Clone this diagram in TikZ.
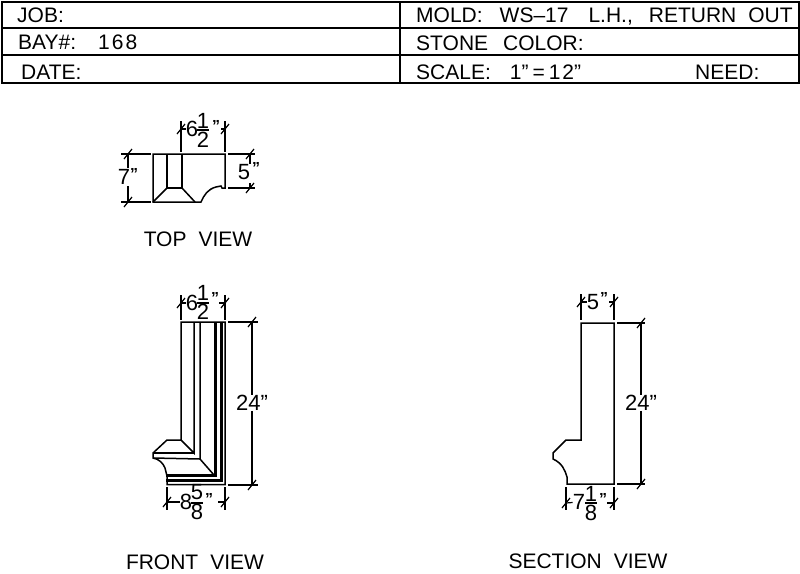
\documentclass[tikz,border=0pt]{standalone}
\usepackage{fontspec}
\setmainfont{Liberation Sans}
\usetikzlibrary{positioning}
\tikzset{
    part/.style={line width=1.5pt, black, line join=miter},
    heavy/.style={line width=3pt, black},
    dimline/.style={line width=1.2pt, black},
    rowtext/.style={anchor=base west, inner sep=0pt, font=\fontsize{21}{22}\selectfont},
    viewtext/.style={anchor=base, inner sep=0pt, font=\fontsize{21}{22}\selectfont},
    dimtext/.style={inner sep=0pt, font=\fontsize{22}{22}\selectfont},
    dimquote/.style={inner sep=0pt, font=\bfseries\fontsize{16}{16}\selectfont},
}
\newcommand{\dimtick}[2]{\draw[dimline] (#1-4,#2+5) -- (#1+4,#2-5);}
\begin{document}
\begin{tikzpicture}[x=1pt,y=-1pt]
    \useasboundingbox (0,0) rectangle (800,573);
    % header
    \draw[line width=1.6pt] (2,2) rectangle (799,83);
    \draw[line width=1.6pt] (2,28) -- (799,28);
    \draw[line width=1.6pt] (2,55) -- (799,55);
    \draw[line width=1.6pt] (400,2) -- (400,83);
    \node[rowtext] (job) at (17,22) {JOB:};
    \node[rowtext] (bay) at (18,49) {BAY\#:\hspace{22pt}1\hspace{2pt}6\hspace{2pt}8};
    \node[rowtext] (date) at (21,79) {DATE:};
    \node[rowtext] (mold) at (416,22) {MOLD:\hspace{17pt}WS--17\hspace{20pt}L.H.,\hspace{16pt}RETURN\hspace{12pt}OUT};
    \node[rowtext] (stone) at (416,50) {STONE\hspace{15pt}COLOR:};
    \node[rowtext] (scale) at (416,79) {SCALE:\hspace{19pt}1”\hspace{4pt}=\hspace{4pt}1\hspace{2pt}2”};
    \node[rowtext] (need) at (695,79) {NEED:};
    % top view
    \draw[part] (153,202) -- (153,154) -- (225,154) -- (225,188) -- (222,188) -- (221,186) -- (216,187)
        .. controls (208,189) and (204,195) .. (201,202) -- cycle;
    \draw[part] (167,154) -- (167,188) -- (182,188) -- (182,154);
    \draw[part] (153,202) -- (167,188);
    \draw[part] (182,188) -- (195,202);
    \draw[dimline] (181,121) -- (181,152);
    \draw[dimline] (225,121) -- (225,152);
    \node[dimtext] (topw) at (192,129) {6};
    \node[dimtext] (topwa) at (203,120.5) {1};
    \node[dimtext] (topwb) at (203,139.5) {2};
    \node[dimquote] (topwq) at (216,126) {”};
    \draw[dimline] (197,130) -- (209,130);
    \draw[dimline] (topw) -- (181,129);
    \draw[dimline] (221,129) -- (225,129);
    \dimtick{181}{129} \dimtick{225}{129}
    \draw[dimline] (121,154) -- (151,154);
    \draw[dimline] (121,202) -- (151,202);
    \node[dimtext] (toph) at (124,177) {7};
    \node[dimquote] (tophq) at (134,174) {”};
    \draw[dimline] (128,154) -- (128,168);
    \draw[dimline] (128,186) -- (128,202);
    \dimtick{128}{154} \dimtick{128}{202}
    \draw[dimline] (228,154) -- (255,154);
    \draw[dimline] (228,188) -- (255,188);
    \node[dimtext] (topr) at (244,172) {5};
    \node[dimquote] (toprq) at (256,168) {”};
    \draw[dimline] (250,154) -- (250,164);
    \draw[dimline] (250,183) -- (250,188);
    \dimtick{250}{154} \dimtick{250}{188}
    \node[viewtext] (toplabel) at (198,246) {TOP\hspace{12pt}VIEW};
    % front view
    \draw[part] (181,440) -- (181,322) -- (225,322) -- (225,484.7) -- (167,484.7) -- (167,476) -- (165,468)
        .. controls (163,463) and (159,459) .. (153,458) -- (153,453) -- (167,440) -- cycle;
    \draw[part] (194,322) -- (194,453) -- (181,440);
    \draw[part] (200,322) -- (200,459) -- (214,475);
    \draw[part] (153,453) -- (194,453);
    \draw[part] (153,458) -- (200,459);
    \draw[heavy] (215.5,322) -- (215.5,475.5) -- (166,475.5);
    \draw[heavy] (221,322) -- (221,480.5) -- (166,480.5);
    \draw[dimline] (181,295) -- (181,320);
    \draw[dimline] (225,295) -- (225,320);
    \node[dimtext] (frontw) at (192,303) {6};
    \node[dimtext] (frontwa) at (203,292.5) {1};
    \node[dimtext] (frontwb) at (203,312) {2};
    \node[dimquote] (frontwq) at (215,298) {”};
    \draw[dimline] (197,303) -- (209,303);
    \draw[dimline] (181,303) -- (frontw);
    \draw[dimline] (219,303) -- (225,303);
    \dimtick{181}{303} \dimtick{225}{303}
    \draw[dimline] (228,322) -- (258,322);
    \draw[dimline] (228,485) -- (258,485);
    \node[dimtext] (fronth) at (252,403) {24”};
    \draw[dimline] (252,322) -- (fronth);
    \draw[dimline] (fronth) -- (252,485);
    \dimtick{252}{322} \dimtick{252}{485}
    \draw[dimline] (167,487) -- (167,510);
    \draw[dimline] (225,487) -- (225,510);
    \node[dimtext] (frontb) at (186,502) {8};
    \node[dimtext] (frontba) at (197,492.5) {5};
    \node[dimtext] (frontbb) at (197,512) {8};
    \node[dimquote] (frontbq) at (209,499) {”};
    \draw[dimline] (191,503) -- (203,503);
    \draw[dimline] (167,502) -- (frontb);
    \draw[dimline] (218,502) -- (225,502);
    \dimtick{167}{502} \dimtick{225}{502}
    \node[viewtext] (frontlabel) at (195,569) {FRONT\hspace{12pt}VIEW};
    % section view
    \draw[part] (581,440) -- (581,323) -- (614,323) -- (614,484) -- (567,484) -- (567,477)
        .. controls (565,470) and (562,463) .. (553,459) -- (553,453) -- (566,440) -- cycle;
    \draw[dimline] (581,294) -- (581,320);
    \draw[dimline] (614,294) -- (614,320);
    \node[dimtext] (sectw) at (593,302) {5};
    \node[dimquote] (sectwq) at (604,298) {”};
    \draw[dimline] (581,302) -- (sectw);
    \draw[dimline] (609,302) -- (614,302);
    \dimtick{581}{302} \dimtick{614}{302}
    \draw[dimline] (617,323) -- (645,323);
    \draw[dimline] (617,484) -- (645,484);
    \node[dimtext] (secth) at (641,403) {24”};
    \draw[dimline] (641,323) -- (secth);
    \draw[dimline] (secth) -- (641,484);
    \dimtick{641}{323} \dimtick{641}{484}
    \draw[dimline] (566,487) -- (566,510);
    \draw[dimline] (614,487) -- (614,510);
    \node[dimtext] (sectb) at (579,502) {7};
    \node[dimtext] (sectba) at (591,493.5) {1};
    \node[dimtext] (sectbb) at (591,513) {8};
    \node[dimquote] (sectbq) at (603,499) {”};
    \draw[dimline] (585,503) -- (597,503);
    \draw[dimline] (566,503) -- (sectb);
    \draw[dimline] (607,503) -- (614,503);
    \dimtick{566}{503} \dimtick{614}{503}
    \node[viewtext] (sectlabel) at (588,568) {SECTION\hspace{12pt}VIEW};
\end{tikzpicture}
\end{document}
